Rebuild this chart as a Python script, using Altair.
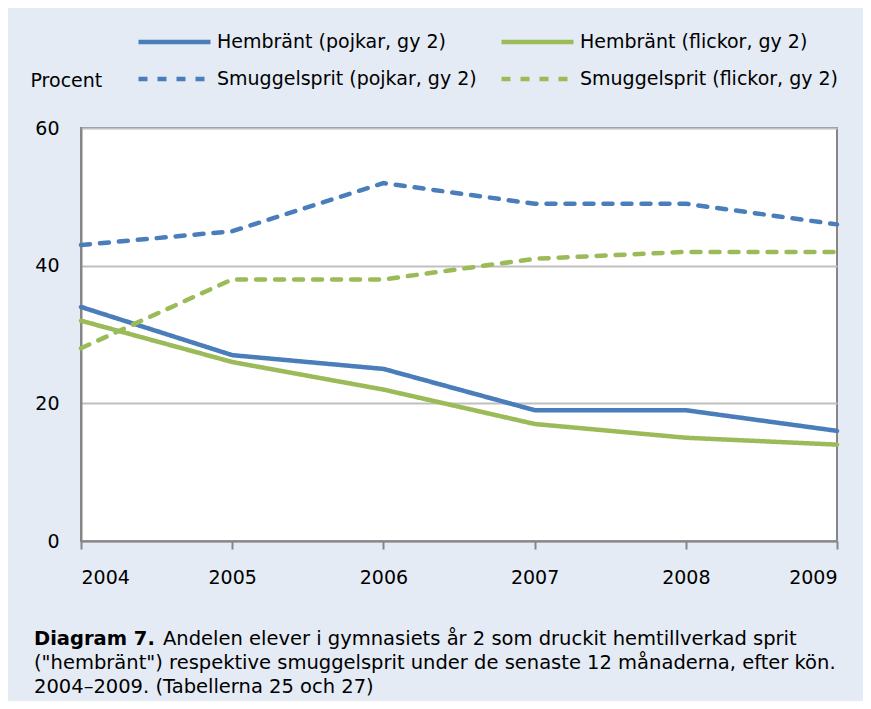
import altair as alt
import pandas as pd

years = [2004, 2005, 2006, 2007, 2008, 2009]
# order chosen so the 2-column legend (filled column by column) reads like the original
series_names = [
    "Hembränt (pojkar, gy 2)",
    "Smuggelsprit (pojkar, gy 2)",
    "Hembränt (flickor, gy 2)",
    "Smuggelsprit (flickor, gy 2)",
]
hem_pojkar = [34, 27, 25, 19, 19, 16]
smu_pojkar = [43, 45, 52, 49, 49, 46]
hem_flickor = [32, 26, 22, 17, 15, 14]
smu_flickor = [28, 38, 38, 41, 42, 42]
y_ticks = [0, 20, 40, 60]

caption_bold = "Diagram 7."
caption_lines = [
    "Andelen elever i gymnasiets år 2 som druckit hemtillverkad sprit",
    "(\"hembränt\") respektive smuggelsprit under de senaste 12 månaderna, efter kön.",
    "2004–2009. (Tabellerna 25 och 27)",
]

BLUE = "#4a7ebb"
GREEN = "#9bbb59"
BG = "#e4ebf5"
GREY = "#868686"
FONT = "DejaVu Sans"
FS = 19
CFS = 19.5

rows = []
for name, vals in zip(series_names, [hem_pojkar, smu_pojkar, hem_flickor, smu_flickor]):
    for yr, v in zip(years, vals):
        rows.append({"year": yr, "value": v, "series": name})
df = pd.DataFrame(rows)

legend = alt.Legend(
    orient="none", legendX=55, legendY=-96, columns=2, title=None,
    symbolType="stroke", symbolSize=5184, symbolStrokeWidth=4.5,
    labelFontSize=FS, labelFont=FONT, labelColor="#000000",
    columnPadding=22, rowPadding=17, clipHeight=20, labelOffset=4, labelLimit=400,
)

lines = alt.Chart(df).mark_line(strokeWidth=4.5, strokeCap="round").encode(
    x=alt.X("year:Q", scale=alt.Scale(domain=[2004, 2009], nice=False, zero=False),
            axis=alt.Axis(values=years, format="d", title=None, grid=False,
                          tickSize=8, tickColor=GREY, tickWidth=2,
                          domainColor=GREY, domainWidth=2,
                          labelFontSize=FS, labelFont=FONT, labelColor="#000000",
                          labelPadding=19)),
    y=alt.Y("value:Q", scale=alt.Scale(domain=[0, 60], nice=False),
            axis=alt.Axis(values=y_ticks, title="Procent", titleAngle=0,
                          titleX=-51, titleY=-48, titleAlign="left", titleBaseline="middle",
                          titleFontSize=FS, titleFont=FONT, titleFontWeight="normal",
                          titleColor="#000000",
                          grid=True, gridColor="#c0c0c0", gridWidth=2,
                          ticks=False, domainColor=GREY, domainWidth=2,
                          labelFontSize=FS, labelFont=FONT, labelColor="#000000",
                          labelPadding=22)),
    color=alt.Color("series:N", sort=series_names,
                    scale=alt.Scale(domain=series_names, range=[BLUE, BLUE, GREEN, GREEN]),
                    legend=legend),
    strokeDash=alt.StrokeDash("series:N", sort=series_names,
                              scale=alt.Scale(domain=series_names,
                                              range=[[1, 0], [9, 10], [1, 0], [9, 10]]),
                              legend=legend),
)

cap_bold = alt.Chart(pd.DataFrame({"t": [caption_bold]})).mark_text(
    align="left", baseline="alphabetic", fontSize=CFS, font=FONT, fontWeight="bold", color="#000000"
).encode(x=alt.value(-47), y=alt.value(517), text="t:N")

cap_df = pd.DataFrame({"t": caption_lines})
cap1 = alt.Chart(cap_df.iloc[[0]]).mark_text(
    align="left", baseline="alphabetic", fontSize=CFS, font=FONT, color="#000000"
).encode(x=alt.value(82), y=alt.value(517), text="t:N")
cap2 = alt.Chart(cap_df.iloc[[1]]).mark_text(
    align="left", baseline="alphabetic", fontSize=CFS, font=FONT, color="#000000"
).encode(x=alt.value(-47), y=alt.value(541), text="t:N")
cap3 = alt.Chart(cap_df.iloc[[2]]).mark_text(
    align="left", baseline="alphabetic", fontSize=CFS, font=FONT, color="#000000"
).encode(x=alt.value(-47), y=alt.value(565), text="t:N")

chart = alt.layer(lines, cap_bold, cap1, cap2, cap3).properties(
    width=756, height=413,
    autosize=alt.AutoSizeParams(type="none"),
    padding={"left": 73, "top": 120, "right": 26, "bottom": 160},
    background=BG,
).configure_view(stroke=GREY, strokeWidth=2, fill="#ffffff")

chart.save("out.html", embed_options={"renderer": "svg", "actions": False})
